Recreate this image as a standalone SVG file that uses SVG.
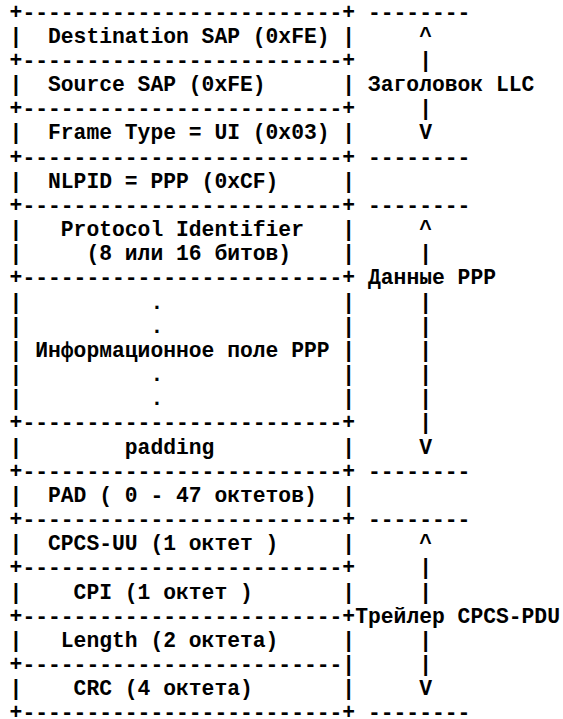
<svg xmlns="http://www.w3.org/2000/svg" width="563" height="719" viewBox="0 0 563 719">
<style>
text{font-family:"Liberation Mono","Courier New",monospace;font-weight:bold;font-size:21.33px;fill:#000;white-space:pre}
</style>
<rect width="563" height="719" fill="#fff"/>
<g id="connectors" transform="translate(0,-1.5)">
<text x="9.6" y="20" xml:space="preserve">+-------------------------+ --------</text>
<text x="9.6" y="68.34" xml:space="preserve">+-------------------------+     |</text>
<text x="9.6" y="116.68" xml:space="preserve">+-------------------------+     |</text>
<text x="9.6" y="165.02" xml:space="preserve">+-------------------------+ --------</text>
<text x="9.6" y="213.36" xml:space="preserve">+-------------------------+ --------</text>
<text x="9.6" y="285.87" xml:space="preserve">+-------------------------+</text>
<text x="9.6" y="430.89" xml:space="preserve">+-------------------------+     |</text>
<text x="9.6" y="479.23" xml:space="preserve">+-------------------------+ --------</text>
<text x="9.6" y="527.57" xml:space="preserve">+-------------------------+ --------</text>
<text x="9.6" y="575.91" xml:space="preserve">+-------------------------+     |</text>
<text x="9.6" y="624.25" xml:space="preserve">+-------------------------+</text>
<text x="9.6" y="672.59" xml:space="preserve">+-------------------------|     |</text>
<text x="9.6" y="720.93" xml:space="preserve">+-------------------------+ --------</text>
</g>
<g transform="translate(0,-1.5)">
<g id="dst-sap"><text x="9.6" y="44.17" xml:space="preserve">|  Destination SAP (0xFE) |     ^</text></g>
<g id="src-sap"><text x="9.6" y="92.51" xml:space="preserve">|  Source SAP (0xFE)      | Заголовок LLC</text></g>
<g id="frame-type"><text x="9.6" y="140.85" xml:space="preserve">|  Frame Type = UI (0x03) |     V</text></g>
<g id="nlpid"><text x="9.6" y="189.19" xml:space="preserve">|  NLPID = PPP (0xCF)     |</text></g>
<g id="protocol-id">
<text x="9.6" y="237.53" xml:space="preserve">|   Protocol Identifier   |     ^</text>
<text x="9.6" y="261.7" xml:space="preserve">|     (8 или 16 битов)    |     |</text>
</g>
<g id="ppp-data-label"><text x="355.2" y="285.87" xml:space="preserve"> Данные PPP</text></g>
<g id="ppp-info">
<text x="9.6" y="310.04" xml:space="preserve">|          .              |     |</text>
<text x="9.6" y="334.21" xml:space="preserve">|          .              |     |</text>
<text x="9.6" y="358.38" xml:space="preserve">| Информационное поле PPP |     |</text>
<text x="9.6" y="382.55" xml:space="preserve">|          .              |     |</text>
<text x="9.6" y="406.72" xml:space="preserve">|          .              |     |</text>
</g>
<g id="padding"><text x="9.6" y="455.06" xml:space="preserve">|        padding          |     V</text></g>
<g id="pad"><text x="9.6" y="503.4" xml:space="preserve">|  PAD ( 0 - 47 октетов)  |</text></g>
<g id="cpcs-uu"><text x="9.6" y="551.74" xml:space="preserve">|  CPCS-UU (1 октет )     |     ^</text></g>
<g id="cpi"><text x="9.6" y="600.08" xml:space="preserve">|    CPI (1 октет )       |     |</text></g>
<g id="trailer-label"><text x="355.2" y="624.25" xml:space="preserve">Трейлер CPCS-PDU</text></g>
<g id="length"><text x="9.6" y="648.42" xml:space="preserve">|   Length (2 октета)     |     |</text></g>
<g id="crc"><text x="9.6" y="696.76" xml:space="preserve">|    CRC (4 октета)       |     V</text></g>
</g>
</svg>
